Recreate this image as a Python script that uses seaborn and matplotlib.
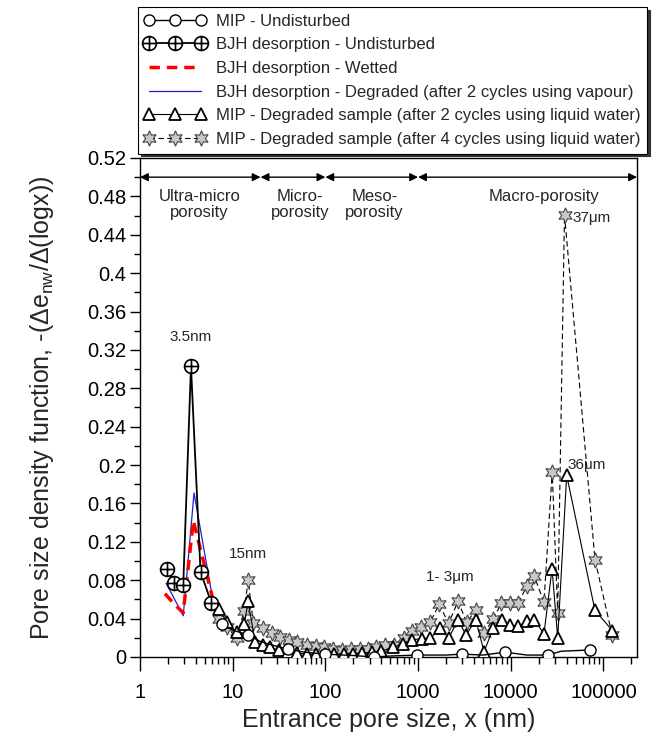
import numpy as np
import pandas as pd
import matplotlib
matplotlib.use("Agg")
import matplotlib.pyplot as plt
from matplotlib.path import Path
from matplotlib.ticker import FixedLocator, FuncFormatter, MultipleLocator, LogLocator, NullFormatter
import seaborn as sns

# ---------------- data ----------------
bjh_und_x = [1.95, 2.34, 2.93, 3.55, 4.5, 5.9]
bjh_und_y = [0.092, 0.077, 0.075, 0.303, 0.089, 0.056]

bjh_wet_x = [1.86, 2.3, 2.93, 3.76, 4.5, 6.2]
bjh_wet_y = [0.066, 0.056, 0.046, 0.142, 0.112, 0.058]

bjh_deg_x = [1.91, 2.93, 3.83, 6.2]
bjh_deg_y = [0.077, 0.043, 0.171, 0.056]

mip_und_x = [7.6, 10, 14.7, 20, 30, 40, 60, 100, 200, 337, 500, 980, 2000, 3000,
             5000, 8700, 15000, 25000, 35000, 71600]
mip_und_y = [0.034, 0.028, 0.023, 0.016, 0.011, 0.008, 0.005, 0.003, 0.0015, 0.0,
             0.001, 0.002, 0.002, 0.003, 0.002, 0.005, 0.002, 0.002, 0.006, 0.0073]
mip_und_marks = [0, 2, 5, 7, 9, 11, 13, 15, 17, 19]

mip2_x = [7.1, 8.7, 11, 13.3, 14.7, 17.4, 21, 25.3, 32, 40, 50, 63, 80, 100, 125,
          160, 200, 250, 320, 400, 540, 690, 870, 1090, 1350, 1740, 2140, 2690,
          3300, 4200, 5150, 6470, 8000, 9840, 12100, 14800, 18000, 22800, 27900,
          32100, 40100, 81000, 125000]
mip2_y = [0.050, 0.036, 0.026, 0.034, 0.058, 0.016, 0.012, 0.010, 0.007, 0.005,
          0.004, 0.003, 0.003, 0.003, 0.003, 0.003, 0.003, 0.004, 0.005, 0.006,
          0.010, 0.014, 0.018, 0.019, 0.0196, 0.030, 0.0196, 0.0387, 0.023, 0.0387,
          0.0055, 0.030, 0.0387, 0.0335, 0.032, 0.037, 0.0387, 0.024, 0.092,
          0.0196, 0.1895, 0.0485, 0.0275]

mip4_x = [7.1, 8.7, 11, 13.3, 14.7, 16.7, 21.3, 26.3, 32.3, 40.3, 50, 62.7, 78.5,
          97.5, 121, 153, 188, 236, 289, 356, 445, 551, 704, 866, 1067, 1350, 1690,
          2130, 2700, 3350, 4180, 5150, 6470, 7900, 9840, 12100, 14800, 18000,
          22800, 28000, 32100, 38000, 81000, 124000]
mip4_y = [0.040, 0.031, 0.020, 0.048, 0.080, 0.035, 0.030, 0.025, 0.021, 0.018,
          0.0155, 0.0126, 0.0115, 0.010, 0.0085, 0.0075, 0.008, 0.008, 0.008, 0.0108,
          0.0126, 0.0126, 0.0196, 0.0275, 0.031, 0.036, 0.055, 0.035, 0.058, 0.036,
          0.049, 0.025, 0.0395, 0.056, 0.056, 0.056, 0.0736, 0.084, 0.057, 0.193,
          0.046, 0.461, 0.1015, 0.023]

zone_bounds = [1, 20, 100, 1000, 230000]
zone_labels = ["Ultra-micro\nporosity", "Micro-\nporosity", "Meso-\nporosity", "Macro-porosity"]
zone_label_x = [4.4, 53, 340, 23000]

x_ticks = [1, 10, 100, 1000, 10000, 100000]
x_tick_labels = ["1", "10", "100", "1000", "10000", "100000"]

# ---------------- style ----------------
sns.set_style("ticks")
plt.rcParams['font.family'] = ['Liberation Sans', 'DejaVu Sans']
plt.rcParams['mathtext.default'] = 'regular'

fig = plt.figure(figsize=(6.59, 7.33), dpi=100)
ax = fig.add_axes([0.2124, 0.1037, 0.7542, 0.6808])

# crossed-circle marker
circ = Path.unit_circle()
cross = Path([[-1, 0], [1, 0], [0, -1], [0, 1]],
             [Path.MOVETO, Path.LINETO, Path.MOVETO, Path.LINETO])
oplus = Path.make_compound_path(circ, cross)

star6 = (6, 1, 0)

# series drawn (bottom first)
sns.lineplot(x=mip4_x, y=mip4_y, ax=ax, color='black', lw=0.8, linestyle=(0, (5, 3)),
             marker=star6, markersize=11, markerfacecolor='#c8c8c8',
             markeredgecolor='#444444', markeredgewidth=0.8, sort=False,
             label="MIP - Degraded sample (after 4 cycles using liquid water)", zorder=2)
sns.lineplot(x=mip2_x, y=mip2_y, ax=ax, color='black', lw=0.8,
             marker='^', markersize=9, markerfacecolor='white',
             markeredgecolor='black', markeredgewidth=1.3, sort=False,
             label="MIP - Degraded sample (after 2 cycles using liquid water)", zorder=3)
sns.lineplot(x=mip_und_x, y=mip_und_y, ax=ax, color='black', lw=1.0,
             marker='o', markersize=8, markerfacecolor='white', markevery=mip_und_marks,
             markeredgecolor='black', markeredgewidth=1.0, sort=False,
             label="MIP - Undisturbed", zorder=4)
sns.lineplot(x=bjh_deg_x, y=bjh_deg_y, ax=ax, color='#1f1fd0', lw=0.9, sort=False,
             label="BJH desorption - Degraded (after 2 cycles using vapour)", zorder=5)
sns.lineplot(x=bjh_wet_x, y=bjh_wet_y, ax=ax, color='red', lw=2.5, linestyle=(0, (3, 2)),
             sort=False, label="BJH desorption - Wetted", zorder=6)
sns.lineplot(x=bjh_und_x, y=bjh_und_y, ax=ax, color='black', lw=1.3,
             marker=oplus, markersize=10, markerfacecolor='white',
             markeredgecolor='black', markeredgewidth=1.2, sort=False,
             label="BJH desorption - Undisturbed", zorder=7)

handles, labels = ax.get_legend_handles_labels()
if ax.get_legend() is not None:
    ax.get_legend().remove()
order = ["MIP - Undisturbed", "BJH desorption - Undisturbed", "BJH desorption - Wetted",
         "BJH desorption - Degraded (after 2 cycles using vapour)",
         "MIP - Degraded sample (after 2 cycles using liquid water)",
         "MIP - Degraded sample (after 4 cycles using liquid water)"]
hmap = dict(zip(labels, handles))
leg = fig.legend([hmap[l] for l in order], order, loc='upper left',
                 bbox_to_anchor=(0.204, 0.995), frameon=True, fancybox=False,
                 edgecolor='black', framealpha=1, fontsize=12, numpoints=3,
                 handlelength=3.7, handletextpad=0.6, labelspacing=0.52,
                 borderpad=0.4, borderaxespad=0.2,
                 shadow={'color': '#333333', 'alpha': 1, 'ox': 2, 'oy': -2})
leg.get_frame().set_linewidth(0.8)

# axes
ax.set_xscale('log')
ax.set_xlim(1, 230000)
ax.set_ylim(0, 0.52)
ax.xaxis.set_major_locator(FixedLocator(x_ticks))
ax.set_xticklabels(x_tick_labels)
ax.xaxis.set_minor_locator(LogLocator(base=10, subs=np.arange(2, 10), numticks=20))
ax.xaxis.set_minor_formatter(NullFormatter())
ax.yaxis.set_major_locator(MultipleLocator(0.04))
ax.yaxis.set_minor_locator(MultipleLocator(0.02))
ax.yaxis.set_major_formatter(FuncFormatter(lambda v, p: "{:g}".format(round(v, 2))))
for s in ax.spines.values():
    s.set_visible(True)
    s.set_linewidth(1.0)
    s.set_color('black')
ax.tick_params(axis='both', which='both', direction='out', width=1,
               labelsize=14.5, colors='black', top=False, right=False)
ax.tick_params(axis='x', which='major', length=10, pad=9)
ax.tick_params(axis='x', which='minor', length=5)
ax.tick_params(axis='y', which='major', length=7, pad=3)
ax.tick_params(axis='y', which='minor', length=4)
ax.set_xlabel("Entrance pore size, x (nm)", fontsize=18, labelpad=4)
ax.set_ylabel("Pore size density function, -(\u0394e$_{nw}$/\u0394(logx))", fontsize=18,
              labelpad=22)

# zone arrows and labels
for i in range(len(zone_bounds) - 1):
    ax.annotate('', xy=(zone_bounds[i + 1], 0.50), xytext=(zone_bounds[i], 0.50),
                arrowprops=dict(arrowstyle='<|-|>', color='black', lw=1.0,
                                shrinkA=0, shrinkB=0, mutation_scale=12),
                annotation_clip=False)
for lx, lt in zip(zone_label_x, zone_labels):
    ax.text(lx, 0.488, lt, ha='center', va='top', fontsize=12, linespacing=1.15)

# annotations
ax.text(3.5, 0.326, "3.5nm", ha='center', va='bottom', fontsize=11)
ax.text(14.5, 0.100, "15nm", ha='center', va='bottom', fontsize=11)
ax.text(2200, 0.076, "1- 3\u03bcm", ha='center', va='bottom', fontsize=11)
ax.text(46000, 0.457, "37\u03bcm", ha='left', va='center', fontsize=11)
ax.text(41000, 0.200, "36\u03bcm", ha='left', va='center', fontsize=11)

fig.savefig("out.png", dpi=100)
